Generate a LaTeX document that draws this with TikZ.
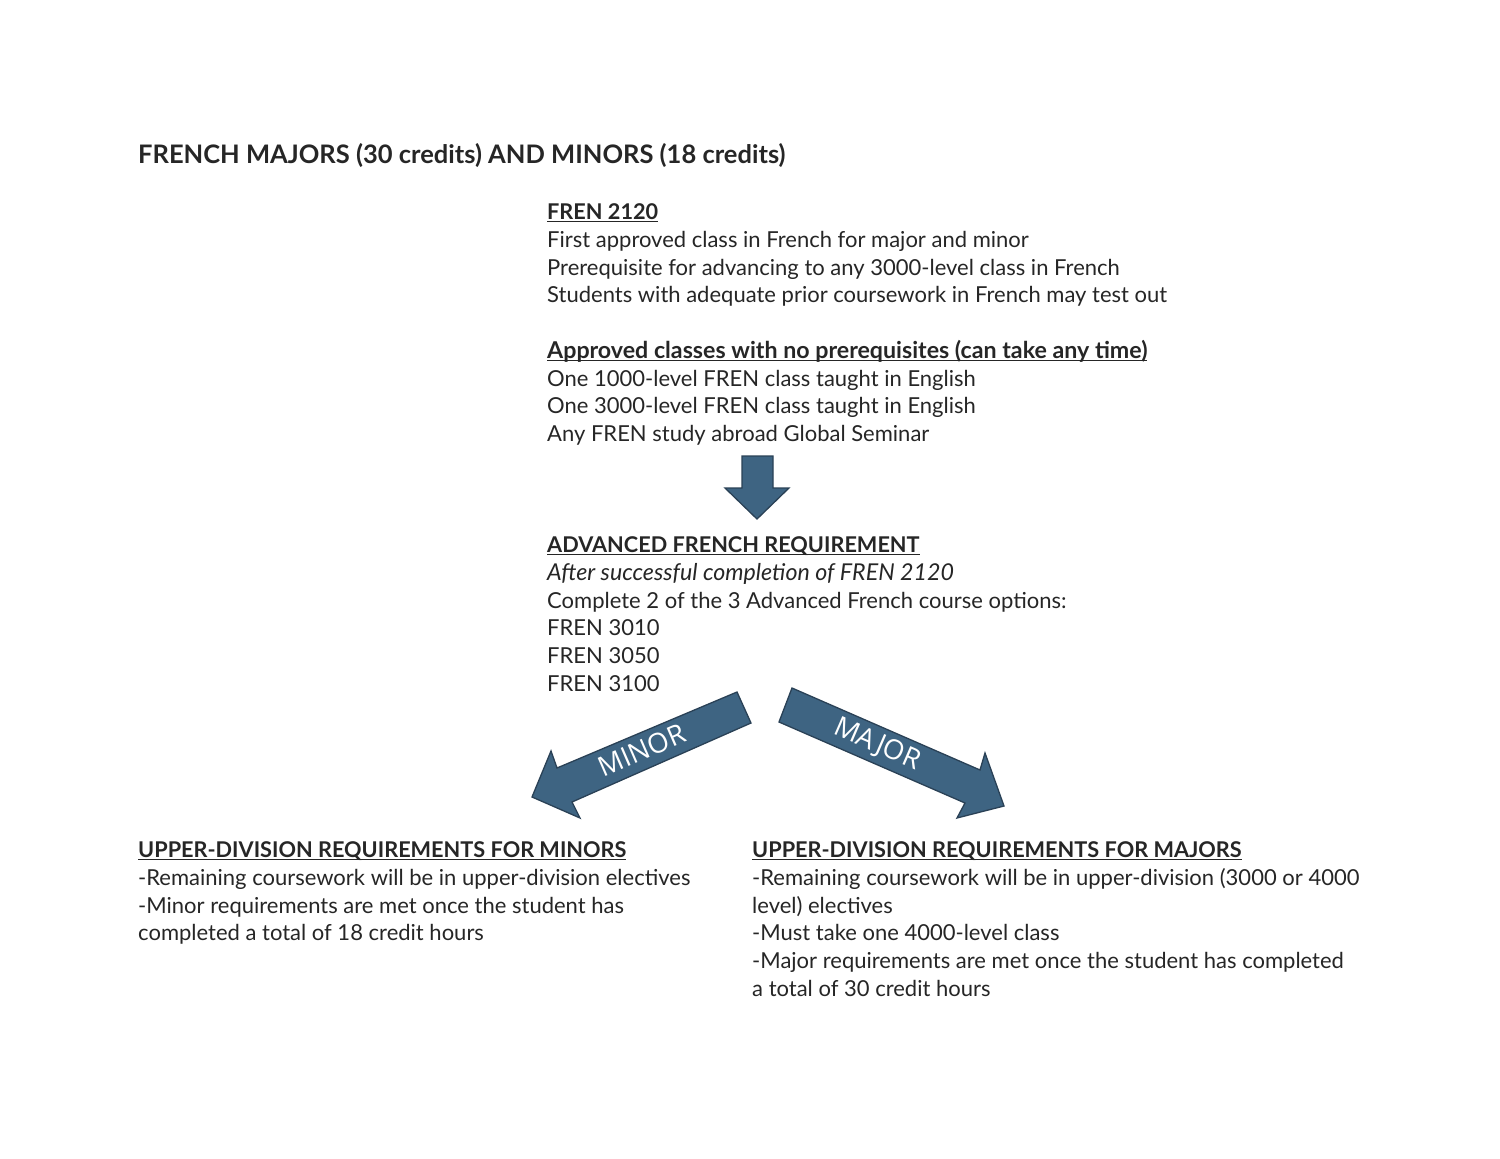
\documentclass[tikz,border=0pt]{standalone}
\usepackage{fontspec}
\setmainfont{Lato}
\newfontfamily\arrowfont{Open Sans}
\definecolor{txt}{HTML}{262626}
\definecolor{arrfill}{HTML}{3E6482}
\definecolor{arredge}{HTML}{2A4156}
\newcommand\myul[1]{\setbox0\hbox{#1}\rlap{\rule[-3.4pt]{\wd0}{1.6pt}}\box0}
\tikzset{
  ln/.style={anchor=base west, inner sep=0pt, text=txt, font=\fontsize{22}{26}\selectfont},
  hd/.style={ln, font=\fontsize{21.7}{26}\selectfont\bfseries},
  hdmix/.style={ln, font=\fontsize{23.2}{26}\selectfont\bfseries},
  itl/.style={ln, font=\fontsize{23.2}{26}\selectfont\itshape},
  ttl/.style={anchor=base west, inner sep=0pt, text=txt, font=\fontsize{25.5}{30}\selectfont\bfseries},
  bigarrow/.style={fill=arrfill, draw=arredge, line width=1.3pt, line join=miter},
  arrlabel/.style={inner sep=0pt, text=white, font=\fontsize{27.5}{30}\selectfont\arrowfont}
}
\begin{document}
\begin{tikzpicture}[x=1pt,y=-1pt]
\useasboundingbox[fill=white] (0,0) rectangle (1500,1159);
% title
\node[ttl] (title) at (138,163) {FRENCH MAJORS (30 credits) AND MINORS (18 credits)};
% block 1
\node[hd] (b1h) at (547,219) {\myul{FREN 2120}};
\node[ln] (b1a) at (547,247) {First approved class in French for major and minor};
\node[ln] (b1b) at (547,275) {Prerequisite for advancing to any 3000-level class in French};
\node[ln] (b1c) at (547,302) {Students with adequate prior coursework in French may test out};
% block 2
\node[hdmix] (b2h) at (547,358) {\myul{Approved classes with no prerequisites (can take any time)}};
\node[ln] (b2a) at (547,386) {One 1000-level FREN class taught in English};
\node[ln] (b2b) at (547,413) {One 3000-level FREN class taught in English};
\node[ln] (b2c) at (547,441) {Any FREN study abroad Global Seminar};
% down arrow
\draw[bigarrow] (742,456) -- (773,456) -- (773,488) -- (789,488) -- (757,519) -- (725,488) -- (742,488) -- cycle;
% block 3
\node[hd] (b3h) at (547,552) {\myul{ADVANCED FRENCH REQUIREMENT}};
\node[itl] (b3a) at (547,580) {After successful completion of FREN 2120};
\node[ln] (b3b) at (547,608) {Complete 2 of the 3 Advanced French course options:};
\node[ln] (b3c) at (547,635) {FREN 3010};
\node[ln] (b3d) at (547,663) {FREN 3050};
\node[ln] (b3e) at (547,691) {FREN 3100};
% minor arrow
\draw[bigarrow] (737,692) -- (751,723) -- (572,802) -- (580,818) -- (532,797) -- (551,751) -- (557,768) -- cycle;
\node[arrlabel, rotate=23.5] (minorlbl) at (642,750) {MINOR};
% major arrow
\draw[bigarrow] (792,688) -- (980,770) -- (985,753) -- (1004,806) -- (957,818) -- (965,803) -- (779,722) -- cycle;
\node[arrlabel, rotate=-23.5] (majorlbl) at (877,745) {MAJOR};
% minors
\node[hd] (mih) at (138,857) {\myul{UPPER-DIVISION REQUIREMENTS FOR MINORS}};
\node[ln] (mia) at (138,885) {-Remaining coursework will be in upper-division electives};
\node[ln] (mib) at (138,913) {-Minor requirements are met once the student has};
\node[ln] (mic) at (138,940) {completed a total of 18 credit hours};
% majors
\node[hd] (mah) at (752,857) {\myul{UPPER-DIVISION REQUIREMENTS FOR MAJORS}};
\node[ln] (maa) at (752,885) {-Remaining coursework will be in upper-division (3000 or 4000};
\node[ln] (mab) at (752,913) {level) electives};
\node[ln] (mac) at (752,940) {-Must take one 4000-level class};
\node[ln] (mad) at (752,968) {-Major requirements are met once the student has completed};
\node[ln] (mae) at (752,996) {a total of 30 credit hours};
\end{tikzpicture}
\end{document}
